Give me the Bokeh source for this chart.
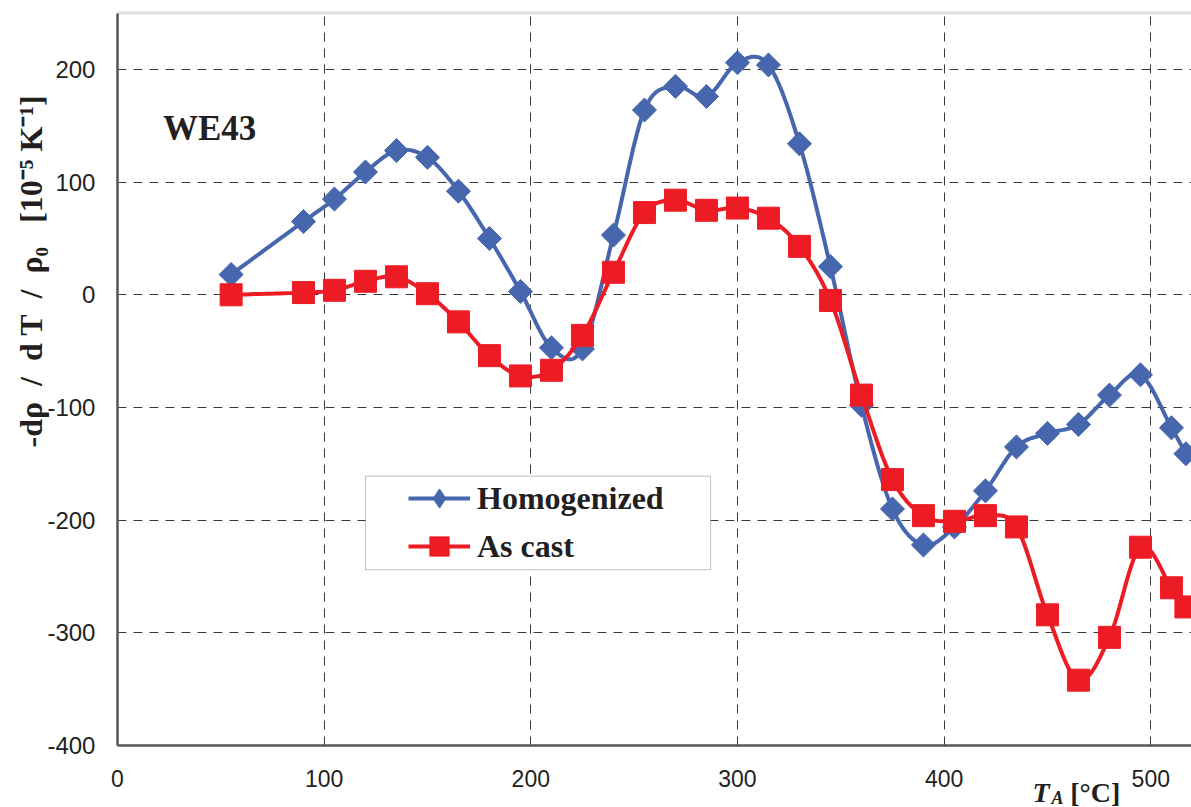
import numpy as np
from bokeh.plotting import figure
from bokeh.models import Range1d, Label, Legend, LegendItem, FixedTicker, BoxAnnotation
from bokeh.embed import file_html
from bokeh.resources import INLINE

temps = [55, 90, 105, 120, 135, 150, 165, 180, 195, 210, 225, 240, 255, 270, 285, 300,
         315, 330, 345, 360, 375, 390, 405, 420, 435, 450, 465, 480, 495, 510, 517]
homogenized = [18, 65, 85, 109, 128, 122, 92, 50, 3, -47, -48, 53, 164, 185, 176, 206,
               204, 134, 25, -98, -190, -222, -206, -174, -135, -123, -115, -89, -71, -118, -141]
as_cast = [0, 2, 4, 12, 16, 1, -24, -54, -72, -67, -36, 20, 73, 84, 75, 77,
           68, 43, -5, -89, -164, -196, -201, -196, -206, -284, -342, -304, -224, -260, -277]
x_ticks = [0, 100, 200, 300, 400, 500]
y_ticks = [-400, -300, -200, -100, 0, 100, 200]
X_MIN, X_MAX = 0, 520
Y_MIN, Y_MAX = -400, 250

BLUE = "#4666AE"
RED = "#ED1C24"
TXT = "#231F20"


def smooth(xs, ys, n=16):
    # uniform Catmull-Rom curve through the data points (Excel-style smoothed line)
    xs = np.asarray(xs, float)
    ys = np.asarray(ys, float)
    px = np.concatenate([[2 * xs[0] - xs[1]], xs, [2 * xs[-1] - xs[-2]]])
    py = np.concatenate([[2 * ys[0] - ys[1]], ys, [2 * ys[-1] - ys[-2]]])
    ox, oy = [], []
    t = np.linspace(0, 1, n, endpoint=False)
    for i in range(1, len(px) - 2):
        for arr, out in ((px, ox), (py, oy)):
            p0, p1, p2, p3 = arr[i - 1], arr[i], arr[i + 1], arr[i + 2]
            out.extend(0.5 * ((2 * p1) + (-p0 + p2) * t + (2 * p0 - 5 * p1 + 4 * p2 - p3) * t ** 2
                              + (-p0 + 3 * p1 - 3 * p2 + p3) * t ** 3))
    ox.append(xs[-1])
    oy.append(ys[-1])
    return ox, oy


# the frame covers the whole canvas; axes are pinned at x=0 / y=-400 so that
# the axis titles can be placed freely as labels
p = figure(width=1191, height=807, output_backend="svg", toolbar_location=None,
           x_range=Range1d(-56.6, 519.7), y_range=Range1d(-455.0, 261.2),
           min_border_left=0, min_border_right=0, min_border_top=0, min_border_bottom=0)
p.title.visible = False
p.outline_line_color = None
p.background_fill_color = "white"
p.border_fill_color = "white"

p.xaxis.fixed_location = Y_MIN
p.yaxis.fixed_location = X_MIN
p.xaxis.bounds = (X_MIN, X_MAX)
p.yaxis.bounds = (Y_MIN, Y_MAX)
for ax in (p.xaxis[0], p.yaxis[0]):
    ax.axis_line_color = "#555555"
    ax.axis_line_width = 2.5
    ax.major_tick_line_color = None
    ax.minor_tick_line_color = None
    ax.major_label_text_font = "Liberation Sans"
    ax.major_label_text_color = TXT
p.xaxis.major_label_text_font_size = "23px"
p.yaxis.major_label_text_font_size = "24px"
p.xaxis.ticker = FixedTicker(ticks=x_ticks)
p.yaxis.ticker = FixedTicker(ticks=y_ticks)
p.yaxis.major_label_overrides = {v: str(v) for v in y_ticks}
p.xaxis.major_label_standoff = 18
p.yaxis.major_label_standoff = 16

for g in (p.xgrid[0], p.ygrid[0]):
    g.grid_line_color = "#3a3a3a"
    g.grid_line_width = 1
    g.grid_line_dash = "9 7"
p.xgrid.ticker = FixedTicker(ticks=[100, 200, 300, 400, 500])
p.ygrid.ticker = FixedTicker(ticks=[-300, -200, -100, 0, 100, 200])
if "cross_bounds" in p.xgrid[0].properties():
    p.xgrid[0].cross_bounds = (Y_MIN, Y_MAX)
    p.ygrid[0].cross_bounds = (X_MIN, X_MAX)

# white masks outside the plotting area (hide grid lines there)
for kw in (dict(right=X_MIN), dict(top=Y_MIN), dict(bottom=Y_MAX)):
    p.add_layout(BoxAnnotation(fill_color="white", fill_alpha=1, line_color=None,
                               level="underlay", **kw))
# top border of the plot area
p.add_layout(BoxAnnotation(left=X_MIN, right=X_MAX, bottom=Y_MAX, top=Y_MAX, fill_alpha=0,
                           line_color="#9a9a9a", line_width=3, level="underlay"))

hx, hy = smooth(temps, homogenized)
cx, cy = smooth(temps, as_cast)

l1 = p.line(hx, hy, line_color=BLUE, line_width=4)
s1 = p.scatter(temps, homogenized, marker="square", size=17, angle=np.pi / 4,
               fill_color=BLUE, line_color=BLUE)
l2 = p.line(cx, cy, line_color=RED, line_width=4)
s2 = p.scatter(temps, as_cast, marker="square", size=22, fill_color=RED, line_color=RED)
# legend-only marker renderers (hidden)
d1 = p.scatter(temps[:1], homogenized[:1], marker="diamond", size=22,
               fill_color=BLUE, line_color=BLUE, visible=False)
d2 = p.scatter(temps[:1], as_cast[:1], marker="square", size=22,
               fill_color=RED, line_color=RED, visible=False)

# legend box
p.add_layout(BoxAnnotation(left=120, right=287, top=-161, bottom=-244,
                           fill_color="white", fill_alpha=1,
                           line_color="#333333", line_width=1))

legend = Legend(items=[LegendItem(label="Homogenized", renderers=[l1, d1]),
                       LegendItem(label="As cast", renderers=[l2, d2])],
                location=(408, 237), orientation="vertical")
legend.label_text_font = "Liberation Serif"
legend.label_text_font_style = "bold"
legend.label_text_font_size = "32px"
legend.label_text_color = TXT
legend.glyph_width = 62
legend.glyph_height = 48
legend.label_height = 48
legend.label_standoff = 7
legend.spacing = 0
legend.padding = 0
legend.margin = 0
legend.border_line_color = None
legend.background_fill_alpha = 0
p.add_layout(legend, "center")

p.add_layout(Label(x=22, y=148, text="WE43", text_font="Liberation Serif", text_font_style="bold",
                   text_font_size="35px", text_color=TXT, text_baseline="middle"))

p.add_layout(Label(x=-42, y=21,
                   text="-dρ\u2002/\u2002d T\u2002/\u2002ρ₀\u2002 [10⁻⁵ K⁻¹]", angle=np.pi / 2,
                   text_font="Liberation Serif", text_font_style="bold", text_font_size="32px",
                   text_color=TXT, text_align="center", text_baseline="middle"))

p.add_layout(Label(x=442.8, y=-442, text="T", text_font="Liberation Serif",
                   text_font_style="bold italic", text_font_size="28px", text_color=TXT,
                   text_baseline="middle"))
p.add_layout(Label(x=452, y=-447, text="A", text_font="Liberation Serif",
                   text_font_style="bold italic", text_font_size="18px", text_color=TXT,
                   text_baseline="middle"))
p.add_layout(Label(x=461, y=-442, text="[°C]", text_font="Liberation Serif",
                   text_font_style="bold", text_font_size="28px", text_color=TXT,
                   text_baseline="middle"))

open("out.html", "w").write(file_html(p, INLINE))
